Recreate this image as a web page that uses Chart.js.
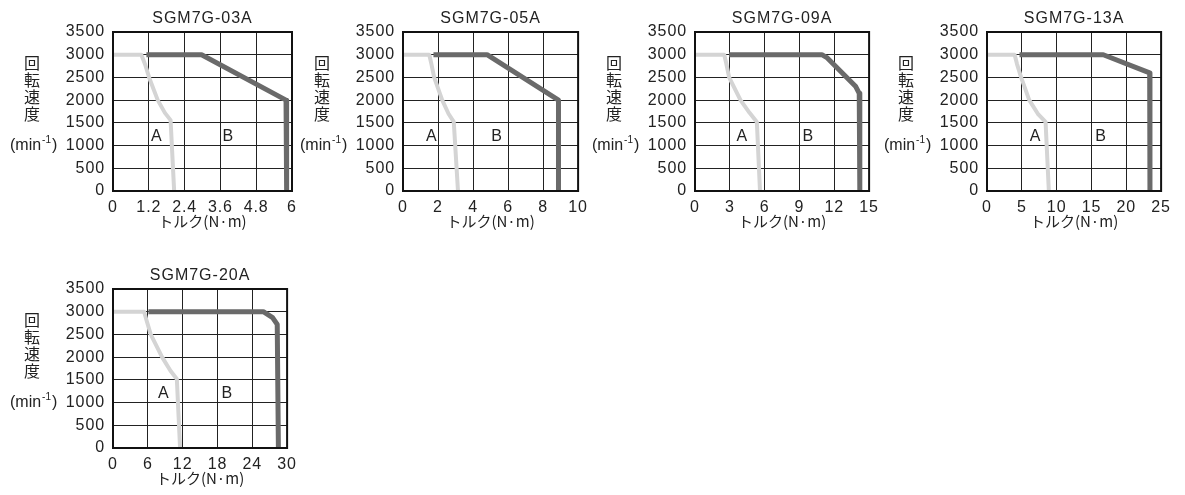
<!DOCTYPE html>
<html>
<head>
<meta charset="utf-8">
<script src="https://cdn.jsdelivr.net/npm/chart.js@4/dist/chart.umd.min.js"></script>
<style>
  body { margin: 0; background: #fff; width: 1185px; height: 495px; position: relative; overflow: hidden; }
  canvas { position: absolute; }
</style>
</head>
<body>
<canvas id="c03" width="304" height="235"></canvas>
<canvas id="c05" width="304" height="235"></canvas>
<canvas id="c09" width="303" height="235"></canvas>
<canvas id="c13" width="303" height="235"></canvas>
<canvas id="c20" width="303" height="235"></canvas>
<script>
// values
const yTicks = [0, 500, 1000, 1500, 2000, 2500, 3000, 3500];

const title03 = 'SGM7G-03A';
const xTicks03 = [0, 1.2, 2.4, 3.6, 4.8, 6];
const curveA03 = [[0, 3000], [0.95, 3000], [1.08, 2780], [1.21, 2500], [1.5, 2000], [1.74, 1720], [1.93, 1560], [2.05, 0]];
const curveB03 = [[1.12, 3000], [2.97, 3000], [5.8, 2000], [5.82, 0]];
const textA03 = [1.47, 1200];
const textB03 = [3.87, 1200];

const title05 = 'SGM7G-05A';
const xTicks05 = [0, 2, 4, 6, 8, 10];
const curveA05 = [[0, 3000], [1.5, 3000], [1.62, 2800], [1.78, 2500], [2.24, 2000], [2.6, 1700], [2.9, 1520], [3.14, 0]];
const curveB05 = [[1.74, 3000], [4.8, 3000], [8.88, 2000], [8.88, 0]];
const textA05 = [1.64, 1200];
const textB05 = [5.38, 1200];

const title09 = 'SGM7G-09A';
const xTicks09 = [0, 3, 6, 9, 12, 15];
const curveA09 = [[0, 3000], [2.52, 3000], [2.7, 2800], [2.94, 2500], [3.92, 2000], [4.7, 1720], [5.33, 1520], [5.6, 0]];
const curveB09 = [[2.94, 3000], [10.93, 3000], [11.4, 2930], [13.85, 2300], [14.15, 2150], [14.2, 0]];
const textA09 = [4.07, 1200];
const textB09 = [9.77, 1200];

const title13 = 'SGM7G-13A';
const xTicks13 = [0, 5, 10, 15, 20, 25];
const curveA13 = [[0, 3000], [3.97, 3000], [4.3, 2800], [4.9, 2500], [6.07, 2000], [7.3, 1700], [8.41, 1520], [8.88, 0]];
const curveB13 = [[4.67, 3000], [16.7, 3000], [23.36, 2600], [23.4, 0]];
const textA13 = [6.97, 1200];
const textB13 = [16.4, 1200];

const title20 = 'SGM7G-20A';
const xTicks20 = [0, 6, 12, 18, 24, 30];
const curveA20 = [[0, 3000], [5.36, 3000], [5.8, 2800], [6.5, 2500], [8.46, 2000], [9.9, 1700], [11.0, 1520], [11.56, 0]];
const curveB20 = [[6.1, 3000], [25.9, 3000], [27.5, 2870], [28.3, 2720], [28.5, 0]];
const textA20 = [8.77, 1200];
const textB20 = [19.7, 1200];

const yName = ['回', '転', '速', '度'];
const xName = 'トルク(N·m)';

// where each plot box sits on the page
const panels = [
  { id: 'c03', left: 113, top: 32, w: 179, title: title03, ticks: xTicks03, a: curveA03, b: curveB03, ta: textA03, tb: textB03 },
  { id: 'c05', left: 403, top: 32, w: 179, title: title05, ticks: xTicks05, a: curveA05, b: curveB05, ta: textA05, tb: textB05 },
  { id: 'c09', left: 695, top: 32, w: 178, title: title09, ticks: xTicks09, a: curveA09, b: curveB09, ta: textA09, tb: textB09 },
  { id: 'c13', left: 987, top: 32, w: 178, title: title13, ticks: xTicks13, a: curveA13, b: curveB13, ta: textA13, tb: textB13 },
  { id: 'c20', left: 113, top: 289, w: 178, title: title20, ticks: xTicks20, a: curveA20, b: curveB20, ta: textA20, tb: textB20 }
];

const YW = 113, TOP = 32, PH = 159;
const textColor = '#222';
const latin = '"Liberation Sans", Arial, sans-serif';
const cjk = '"Noto Sans CJK JP", sans-serif';

const decor = {
  id: 'decor',
  beforeDraw(chart) {
    chart.ctx.letterSpacing = '0.9px';
  },
  afterDraw(chart) {
    const ctx = chart.ctx;
    const area = chart.chartArea;
    const p = chart.options.plugins.decor;
    const xs = chart.scales.x, ys = chart.scales.y;
    const cx = (area.left + area.right) / 2;
    ctx.save();
    ctx.letterSpacing = '1px';
    // frame
    ctx.strokeStyle = '#111';
    ctx.lineWidth = 2;
    ctx.strokeRect(area.left, area.top, area.right - area.left, area.bottom - area.top);
    ctx.fillStyle = textColor;
    ctx.textBaseline = 'middle';
    ctx.textAlign = 'center';
    // title
    ctx.font = '16px ' + latin;
    ctx.fillText(p.title, cx, area.top - 13);
    // A / B region labels
    ctx.fillText('A', xs.getPixelForValue(p.ta[0]), ys.getPixelForValue(p.ta[1]));
    ctx.fillText('B', xs.getPixelForValue(p.tb[0]), ys.getPixelForValue(p.tb[1]));
    // x axis name
    ctx.letterSpacing = '0px';
    ctx.font = '15px ' + cjk;
    ctx.fillText(xName, cx, area.bottom + 30);
    // y axis name, stacked
    ctx.font = '16px ' + cjk;
    yName.forEach((ch, i) => ctx.fillText(ch, area.left - 81, area.top + 31 + i * 17));
    // (min-1)
    const y1000 = ys.getPixelForValue(1000);
    ctx.textAlign = 'left';
    ctx.font = '16px ' + latin;
    let x = area.left - 103;
    ctx.fillText('(min', x, y1000);
    x += ctx.measureText('(min').width + 1;
    ctx.font = '10px ' + latin;
    ctx.fillText('-1', x, y1000 - 5);
    x += ctx.measureText('-1').width + 1;
    ctx.font = '16px ' + latin;
    ctx.fillText(')', x, y1000);
    ctx.restore();
  }
};

panels.forEach(pn => {
  const canvas = document.getElementById(pn.id);
  canvas.style.left = (pn.left - YW) + 'px';
  canvas.style.top = (pn.top - TOP) + 'px';
  const last = pn.ticks[pn.ticks.length - 1];
  new Chart(canvas, {
    type: 'scatter',
    data: {
      datasets: [
        {
          data: pn.a.map(p => ({ x: p[0], y: p[1] })),
          showLine: true,
          borderColor: '#d4d4d4',
          borderWidth: 4,
          pointRadius: 0,
          borderJoinStyle: 'round',
          borderCapStyle: 'butt'
        },
        {
          data: pn.b.map(p => ({ x: p[0], y: p[1] })),
          showLine: true,
          borderColor: '#6a6a6a',
          borderWidth: 5,
          pointRadius: 0,
          borderJoinStyle: 'round',
          borderCapStyle: 'butt'
        }
      ]
    },
    options: {
      responsive: false,
      animation: false,
      events: [],
      layout: { padding: { top: TOP, left: 0, bottom: 0, right: canvas.width - YW - pn.w } },
      plugins: {
        legend: { display: false },
        tooltip: { enabled: false },
        decor: { title: pn.title, ta: pn.ta, tb: pn.tb }
      },
      scales: {
        x: {
          type: 'linear',
          min: 0,
          max: last,
          afterBuildTicks: s => { s.ticks = pn.ticks.map(v => ({ value: v })); },
          afterFit: s => { s.height = canvas.height - TOP - PH; },
          grid: { color: '#222', lineWidth: 1, drawTicks: false },
          border: { display: false },
          ticks: {
            padding: 7,
            autoSkip: false,
            maxRotation: 0,
            color: textColor,
            font: { family: latin, size: 16 },
            callback: v => String(v)
          }
        },
        y: {
          min: 0,
          max: 3500,
          afterBuildTicks: s => { s.ticks = yTicks.map(v => ({ value: v })); },
          afterFit: s => { s.width = YW; },
          grid: { color: '#222', lineWidth: 1, drawTicks: false },
          border: { display: false },
          ticks: {
            padding: 8,
            autoSkip: false,
            color: textColor,
            font: { family: latin, size: 16 },
            callback: v => String(v)
          }
        }
      }
    },
    plugins: [decor]
  });
});
</script>
</body>
</html>
